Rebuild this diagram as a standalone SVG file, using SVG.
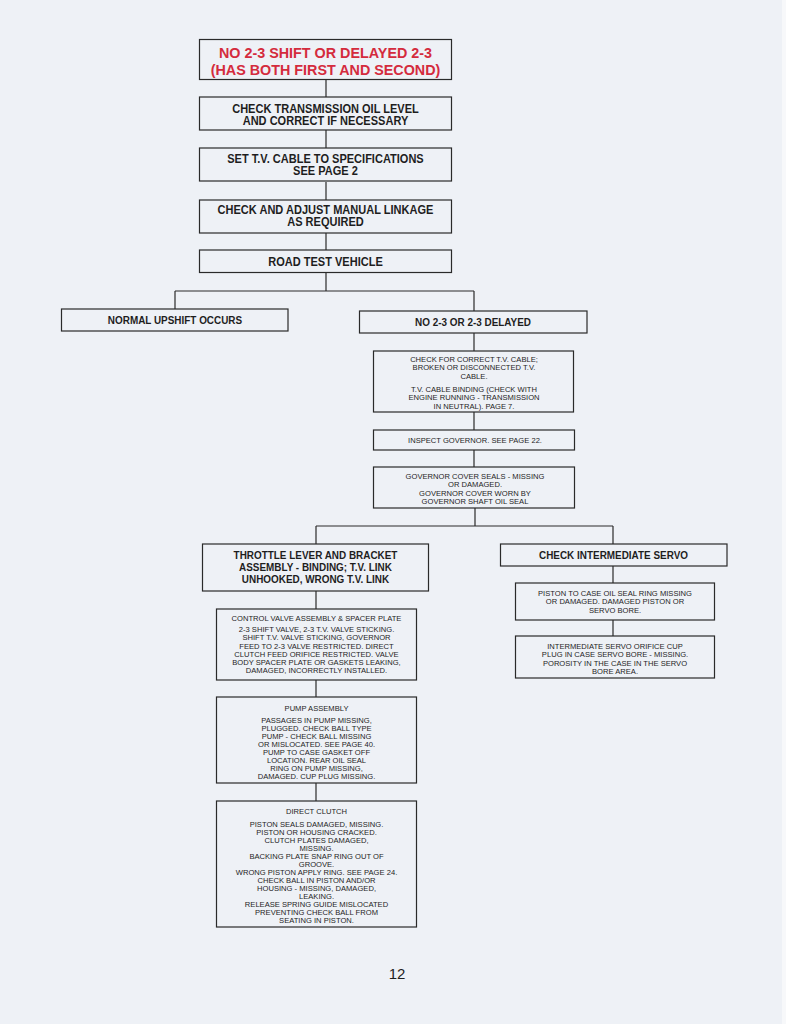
<svg xmlns="http://www.w3.org/2000/svg" width="786" height="1024" viewBox="0 0 786 1024">
<style>
.box{fill:none;stroke:#2a2a2a;stroke-width:1.2}
.con line{stroke:#2a2a2a;stroke-width:1.2}
text{font-family:"Liberation Sans",Arial,sans-serif;fill:#1e1e1e;text-anchor:middle}
.t{font-size:14.8px;font-weight:bold;fill:#d42b3d}
.b{font-size:12px;font-weight:bold}
.m{font-size:10.8px;font-weight:bold}
.s{font-size:8px}
.pg{font-size:15px}
</style>
<rect width="786" height="1024" fill="#eef1f6"/>
<rect x="782" y="0" width="4" height="1024" fill="#f7f8fa"/>
<g class="con">
<line x1="326" y1="80" x2="326" y2="97"/>
<line x1="326" y1="130" x2="326" y2="148"/>
<line x1="326" y1="182" x2="326" y2="200"/>
<line x1="326" y1="233" x2="326" y2="250"/>
<line x1="326" y1="273" x2="326" y2="291"/>
<line x1="175" y1="291" x2="474" y2="291"/>
<line x1="175" y1="291" x2="175" y2="309"/>
<line x1="474" y1="291" x2="474" y2="311"/>
<line x1="474" y1="333" x2="474" y2="351"/>
<line x1="474" y1="412" x2="474" y2="430"/>
<line x1="474" y1="450" x2="474" y2="467"/>
<line x1="475" y1="508" x2="475" y2="526"/>
<line x1="316" y1="526" x2="613" y2="526"/>
<line x1="316" y1="526" x2="316" y2="544"/>
<line x1="613" y1="526" x2="613" y2="544"/>
<line x1="613" y1="566" x2="613" y2="583"/>
<line x1="613" y1="620" x2="613" y2="636"/>
<line x1="316" y1="591" x2="316" y2="609"/>
<line x1="316" y1="680" x2="316" y2="697"/>
<line x1="316" y1="783" x2="316" y2="801"/>
</g>
<g id="title">
<rect class="box" x="199.5" y="39.5" width="252" height="40"/>
<g transform="translate(325.5 0) scale(0.97 1)"><text class="t" x="0" y="58.5">NO 2-3 SHIFT OR DELAYED 2-3</text><text class="t" x="0" y="75">(HAS BOTH FIRST AND SECOND)</text></g>
</g>
<g id="oil">
<rect class="box" x="199.5" y="97" width="252" height="33"/>
<g transform="translate(325.5 0) scale(0.92 1)"><text class="b" x="0" y="113">CHECK TRANSMISSION OIL LEVEL</text><text class="b" x="0" y="125">AND CORRECT IF NECESSARY</text></g>
</g>
<g id="tvcable">
<rect class="box" x="199.5" y="148" width="252" height="33"/>
<g transform="translate(325.5 0) scale(0.92 1)"><text class="b" x="0" y="163">SET T.V. CABLE TO SPECIFICATIONS</text><text class="b" x="0" y="175">SEE PAGE 2</text></g>
</g>
<g id="linkage">
<rect class="box" x="199.5" y="200" width="252" height="33"/>
<g transform="translate(325.5 0) scale(0.92 1)"><text class="b" x="0" y="214">CHECK AND ADJUST MANUAL LINKAGE</text><text class="b" x="0" y="226.5">AS REQUIRED</text></g>
</g>
<g id="roadtest">
<rect class="box" x="199.5" y="250" width="252" height="22.5"/>
<g transform="translate(325.5 0) scale(0.92 1)"><text class="b" x="0" y="266.5">ROAD TEST VEHICLE</text></g>
</g>
<g id="normal">
<rect class="box" x="61.5" y="309" width="226.5" height="22"/>
<g transform="translate(175 0) scale(0.92 1)"><text class="m" x="0" y="324.5">NORMAL UPSHIFT OCCURS</text></g>
</g>
<g id="no23">
<rect class="box" x="359.5" y="311" width="227.5" height="22"/>
<g transform="translate(473 0) scale(0.92 1)"><text class="m" x="0" y="326.5">NO 2-3 OR 2-3 DELAYED</text></g>
</g>
<g id="tvcheck">
<rect class="box" x="373.5" y="351" width="200" height="61"/>
<g transform="translate(474 0) scale(0.95 1)"><text class="s" x="0" y="362">CHECK FOR CORRECT T.V. CABLE;</text><text class="s" x="0" y="370.5">BROKEN OR DISCONNECTED T.V.</text><text class="s" x="0" y="379">CABLE.</text><text class="s" x="0" y="392">T.V. CABLE BINDING (CHECK WITH</text><text class="s" x="0" y="400.5">ENGINE RUNNING - TRANSMISSION</text><text class="s" x="0" y="409">IN NEUTRAL). PAGE 7.</text></g>
</g>
<g id="governor">
<rect class="box" x="373.5" y="430" width="201" height="20"/>
<g transform="translate(475 0) scale(0.95 1)"><text class="s" x="0" y="443.5">INSPECT GOVERNOR. SEE PAGE 22.</text></g>
</g>
<g id="govcover">
<rect class="box" x="373.5" y="467" width="201" height="41"/>
<g transform="translate(475 0) scale(0.95 1)"><text class="s" x="0" y="479">GOVERNOR COVER SEALS - MISSING</text><text class="s" x="0" y="487.5">OR DAMAGED.</text><text class="s" x="0" y="496">GOVERNOR COVER WORN BY</text><text class="s" x="0" y="504.5">GOVERNOR SHAFT OIL SEAL</text></g>
</g>
<g id="throttle">
<rect class="box" x="202.5" y="544" width="226" height="47"/>
<g transform="translate(315.5 0) scale(0.92 1)"><text class="m" x="0" y="559">THROTTLE LEVER AND BRACKET</text><text class="m" x="0" y="571">ASSEMBLY - BINDING; T.V. LINK</text><text class="m" x="0" y="583">UNHOOKED, WRONG T.V. LINK</text></g>
</g>
<g id="servo">
<rect class="box" x="500.5" y="544" width="226.5" height="22"/>
<g transform="translate(613.5 0) scale(0.92 1)"><text class="m" x="0" y="559.5">CHECK INTERMEDIATE SERVO</text></g>
</g>
<g id="piston">
<rect class="box" x="515.5" y="583" width="199" height="37"/>
<g transform="translate(615 0) scale(0.95 1)"><text class="s" x="0" y="596">PISTON TO CASE OIL SEAL RING MISSING</text><text class="s" x="0" y="604.5">OR DAMAGED. DAMAGED PISTON OR</text><text class="s" x="0" y="613">SERVO BORE.</text></g>
</g>
<g id="orifice">
<rect class="box" x="515.5" y="636" width="199" height="42"/>
<g transform="translate(615 0) scale(0.95 1)"><text class="s" x="0" y="649">INTERMEDIATE SERVO ORIFICE CUP</text><text class="s" x="0" y="657.5">PLUG IN CASE SERVO BORE - MISSING.</text><text class="s" x="0" y="666">POROSITY IN THE CASE IN THE SERVO</text><text class="s" x="0" y="674.5">BORE AREA.</text></g>
</g>
<g id="valve">
<rect class="box" x="216.5" y="609" width="200" height="71"/>
<g transform="translate(316.5 0) scale(0.95 1)"><text class="s" x="0" y="621">CONTROL VALVE ASSEMBLY &amp; SPACER PLATE</text><text class="s" x="0" y="632">2-3 SHIFT VALVE, 2-3 T.V. VALVE STICKING.</text><text class="s" x="0" y="640.3">SHIFT T.V. VALVE STICKING, GOVERNOR</text><text class="s" x="0" y="648.6">FEED TO 2-3 VALVE RESTRICTED. DIRECT</text><text class="s" x="0" y="656.9">CLUTCH FEED ORIFICE RESTRICTED. VALVE</text><text class="s" x="0" y="665.2">BODY SPACER PLATE OR GASKETS LEAKING,</text><text class="s" x="0" y="673.5">DAMAGED, INCORRECTLY INSTALLED.</text></g>
</g>
<g id="pump">
<rect class="box" x="216.5" y="697" width="200" height="86"/>
<g transform="translate(316.5 0) scale(0.95 1)"><text class="s" x="0" y="711">PUMP ASSEMBLY</text><text class="s" x="0" y="723">PASSAGES IN PUMP MISSING,</text><text class="s" x="0" y="731">PLUGGED. CHECK BALL TYPE</text><text class="s" x="0" y="739">PUMP - CHECK BALL MISSING</text><text class="s" x="0" y="747">OR MISLOCATED. SEE PAGE 40.</text><text class="s" x="0" y="755">PUMP TO CASE GASKET OFF</text><text class="s" x="0" y="763">LOCATION. REAR OIL SEAL</text><text class="s" x="0" y="771">RING ON PUMP MISSING,</text><text class="s" x="0" y="779">DAMAGED. CUP PLUG MISSING.</text></g>
</g>
<g id="clutch">
<rect class="box" x="216.5" y="801" width="200" height="126"/>
<g transform="translate(316.5 0) scale(0.95 1)"><text class="s" x="0" y="814">DIRECT CLUTCH</text><text class="s" x="0" y="827">PISTON SEALS DAMAGED, MISSING.</text><text class="s" x="0" y="835">PISTON OR HOUSING CRACKED.</text><text class="s" x="0" y="843">CLUTCH PLATES DAMAGED,</text><text class="s" x="0" y="851">MISSING.</text><text class="s" x="0" y="859">BACKING PLATE SNAP RING OUT OF</text><text class="s" x="0" y="867">GROOVE.</text><text class="s" x="0" y="875">WRONG PISTON APPLY RING. SEE PAGE 24.</text><text class="s" x="0" y="883">CHECK BALL IN PISTON AND/OR</text><text class="s" x="0" y="891">HOUSING - MISSING, DAMAGED,</text><text class="s" x="0" y="899">LEAKING.</text><text class="s" x="0" y="907">RELEASE SPRING GUIDE MISLOCATED</text><text class="s" x="0" y="915">PREVENTING CHECK BALL FROM</text><text class="s" x="0" y="923">SEATING IN PISTON.</text></g>
</g>
<text class="pg" x="397" y="979">12</text>
</svg>
